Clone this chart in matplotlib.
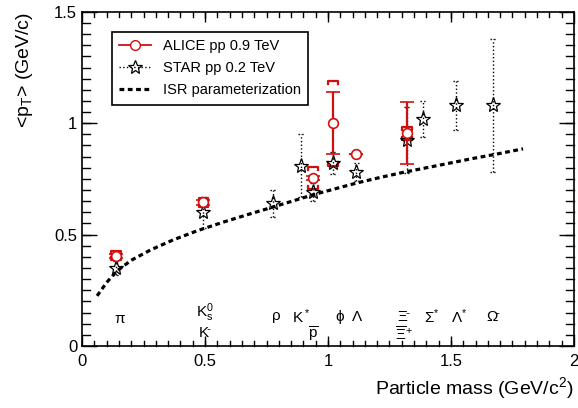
import numpy as np
import matplotlib
matplotlib.use("Agg")
import matplotlib.pyplot as plt
from matplotlib.ticker import FuncFormatter

plt.rcParams['font.family'] = ['Liberation Sans', 'DejaVu Sans']
plt.rcParams['mathtext.fontset'] = 'custom'
plt.rcParams['mathtext.rm'] = 'Liberation Sans'
plt.rcParams['mathtext.it'] = 'Liberation Sans'

# ALICE pp 0.9 TeV
alice_mass = [0.1396, 0.4937, 0.9383, 1.0195, 1.1157, 1.3217]
alice_pt = [0.405, 0.645, 0.755, 1.00, 0.86, 0.955]
alice_stat = [0.01, 0.01, 0.01, 0.14, 0.0, 0.14]
alice_sys = [0.02, 0.02, 0.05, 0.19, 0.0, 0.03]

# STAR pp 0.2 TeV
star_mass = [0.1396, 0.4937, 0.7755, 0.8917, 0.9383, 1.0195, 1.1157, 1.3217, 1.385, 1.520, 1.6725]
star_pt = [0.35, 0.60, 0.64, 0.81, 0.69, 0.82, 0.78, 0.925, 1.02, 1.08, 1.08]
star_err = [0.03, 0.07, 0.06, 0.14, 0.04, 0.05, 0.04, 0.15, 0.08, 0.11, 0.30]

# ISR parameterization
isr_mass = [0.061, 0.10, 0.14, 0.20, 0.28, 0.37, 0.47, 0.58, 0.68, 0.777, 0.86, 0.94,
            1.03, 1.118, 1.21, 1.30, 1.40, 1.50, 1.59, 1.679, 1.793]
isr_pt = [0.225, 0.285, 0.335, 0.385, 0.432, 0.476, 0.518, 0.558, 0.592, 0.624, 0.652, 0.679,
          0.706, 0.732, 0.756, 0.778, 0.80, 0.822, 0.842, 0.860, 0.885]

# particle labels
lab_text = [r'$\pi$', r'$\mathrm{K^0_s}$', r'$\mathrm{K^{\bar{}}}$', r'$\rho$', r'$\mathrm{K^*}$',
            r'$\overline{\mathrm{p}}$', r'$\phi$', r'$\Lambda$', r'$\Xi^{\bar{}}$',
            r'$\overline{\Xi}^{+}$', r'$\Sigma^{*}$', r'$\Lambda^{*}$', r'$\Omega^{\bar{}}$']
lab_x = [0.155, 0.50, 0.50, 0.79, 0.89, 0.94, 1.05, 1.12, 1.31, 1.31, 1.42, 1.535, 1.675]
lab_y = [0.12, 0.15, 0.06, 0.13, 0.13, 0.05, 0.13, 0.13, 0.13, 0.05, 0.13, 0.13, 0.13]

red = '#d01010'

fig = plt.figure(figsize=(5.78, 4.08), dpi=100)
ax = fig.add_axes([0.142, 0.152, 0.851, 0.819])

# ISR curve
ax.plot(isr_mass, isr_pt, color='black', ls=(0, (1.5, 1.1)), lw=2.3,
        label='ISR parameterization', zorder=2)

# STAR
eb = ax.errorbar(star_mass, star_pt, yerr=star_err, fmt='none', ecolor='black',
                 elinewidth=1, capsize=0, zorder=3)
eb[2][0].set_linestyle(':')
for m, v, e in zip(star_mass, star_pt, star_err):
    ax.plot([m - 0.012, m + 0.012], [v + e, v + e], color='black', lw=1, ls=':')
    ax.plot([m - 0.012, m + 0.012], [v - e, v - e], color='black', lw=1, ls=':')
ax.plot(star_mass, star_pt, ls='none', marker='*', ms=11, mfc='none', mec='black',
        mew=0.9, zorder=5)
ax.plot([], [], color='black', ls=':', lw=1, marker='*', ms=10, mfc='none', mec='black',
        mew=0.9, label='STAR pp 0.2 TeV')

# ALICE systematic brackets
w = 0.02
h = 0.014
for m, v, s in zip(alice_mass, alice_pt, alice_sys):
    if s <= 0:
        continue
    ax.plot([m - w, m - w, m + w, m + w], [v + s - h, v + s, v + s, v + s - h],
            color=red, lw=1.6, zorder=4)
    ax.plot([m - w, m - w, m + w, m + w], [v - s + h, v - s, v - s, v - s + h],
            color=red, lw=1.6, zorder=4)

# ALICE stat
ax.errorbar(alice_mass, alice_pt, yerr=alice_stat, fmt='o', color=red, ms=7,
            mfc='white', mec=red, mew=1.2, elinewidth=1.6, capsize=5, capthick=1.6,
            zorder=6)
ax.plot([], [], color=red, lw=1.3, marker='o', ms=7, mfc='white', mec=red,
        label='ALICE pp 0.9 TeV')

for t, x, y in zip(lab_text, lab_x, lab_y):
    ax.text(x, y, t, ha='center', va='center', fontsize=11)

ax.set_xlim(0, 2)
ax.set_ylim(0, 1.5)
fmt = FuncFormatter(lambda v, p: '%g' % v)
ax.set_xticks(np.arange(0, 2.01, 0.5))
ax.set_yticks(np.arange(0, 1.51, 0.5))
ax.xaxis.set_major_formatter(fmt)
ax.yaxis.set_major_formatter(fmt)
ax.tick_params(axis='x', which='major', direction='in', length=7.5, width=1, top=True,
               labelsize=12, pad=6)
ax.tick_params(axis='y', which='major', direction='in', length=11, width=1, right=True,
               labelsize=12)
for sp in ax.spines.values():
    sp.set_linewidth(1.2)

# small divisions drawn as short lines on the frame
tx = ax.get_xaxis_transform()
ty = ax.get_yaxis_transform()
for xm in np.arange(0.05, 2.0, 0.05):
    ax.plot([xm, xm], [0, 0.015], color='black', lw=1, transform=tx, clip_on=False)
    ax.plot([xm, xm], [1, 0.985], color='black', lw=1, transform=tx, clip_on=False)
for ym in np.arange(0.05, 1.5, 0.05):
    ax.plot([0, 0.016], [ym, ym], color='black', lw=1, transform=ty, clip_on=False)
    ax.plot([1, 0.984], [ym, ym], color='black', lw=1, transform=ty, clip_on=False)

ax.set_xlabel(r'Particle mass (GeV/c$^2$)', fontsize=14, loc='right', labelpad=4)
ax.set_ylabel(r'<p$_\mathrm{T}$> (GeV/c)', fontsize=14, loc='top', labelpad=14)

handles, labels = ax.get_legend_handles_labels()
order = [labels.index('ALICE pp 0.9 TeV'), labels.index('STAR pp 0.2 TeV'),
         labels.index('ISR parameterization')]
leg = ax.legend([handles[i] for i in order], [labels[i] for i in order],
                loc='upper left', bbox_to_anchor=(0.061, 0.94), fontsize=10.5,
                frameon=True, fancybox=False, edgecolor='black', framealpha=1,
                borderpad=0.5, handlelength=2.2, labelspacing=0.55, borderaxespad=0)
leg.get_frame().set_linewidth(1.2)

fig.savefig('out.png', dpi=100)
